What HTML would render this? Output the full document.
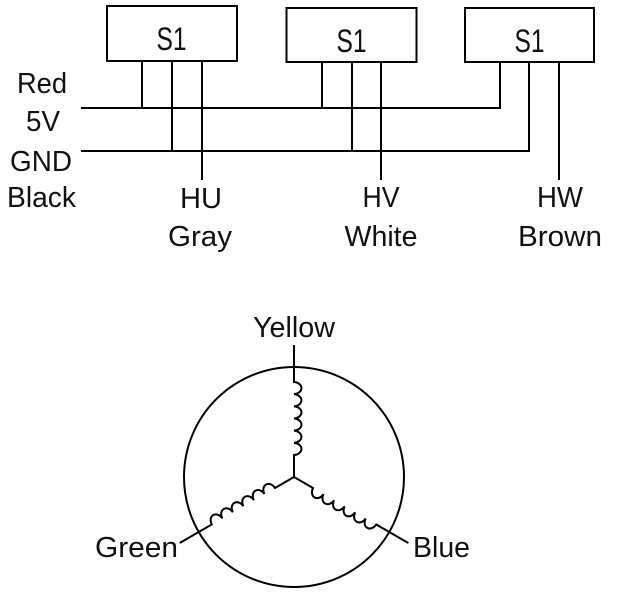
<!DOCTYPE html>
<html>
<head>
<meta charset="utf-8">
<style>
  html,body{margin:0;padding:0;background:#fff;}
  svg{display:block;}
  text{font-family:"Liberation Sans","DejaVu Sans",sans-serif;font-size:29px;fill:#111;text-anchor:middle;}
</style>
</head>
<body>
<svg width="621" height="595" viewBox="0 0 621 595" xmlns="http://www.w3.org/2000/svg">
  <g fill="none" stroke="#000" stroke-width="2">
    <!-- boxes -->
    <rect x="107" y="6" width="130" height="55"/>
    <rect x="286.5" y="8" width="130" height="54"/>
    <rect x="465" y="8" width="129" height="54"/>
    <!-- bus lines -->
    <line x1="81" y1="108" x2="501" y2="108"/>
    <line x1="81" y1="151" x2="530" y2="151"/>
    <!-- box1 pins -->
    <line x1="142" y1="61" x2="142" y2="108"/>
    <line x1="172" y1="61" x2="172" y2="151"/>
    <line x1="202" y1="61" x2="202" y2="180"/>
    <!-- box2 pins -->
    <line x1="322" y1="62" x2="322" y2="108"/>
    <line x1="352" y1="62" x2="352" y2="151"/>
    <line x1="381" y1="62" x2="381" y2="180"/>
    <!-- box3 pins -->
    <line x1="500" y1="62" x2="500" y2="109"/>
    <line x1="529" y1="62" x2="529" y2="152"/>
    <line x1="559" y1="62" x2="559" y2="180"/>

    <!-- motor circle -->
    <circle cx="294" cy="477" r="110"/>
    <!-- winding branches -->
    <path d="M294,345 L294,382 a8,6.1 0 0 1 0,12.17 a8,6.1 0 0 1 0,12.17 a8,6.1 0 0 1 0,12.17 a8,6.1 0 0 1 0,12.17 a8,6.1 0 0 1 0,12.17 a8,6.1 0 0 1 0,12.17 L294,477"/>
    <g transform="rotate(120 294 477)">
      <path d="M294,345 L294,382 a8,6.1 0 0 1 0,12.17 a8,6.1 0 0 1 0,12.17 a8,6.1 0 0 1 0,12.17 a8,6.1 0 0 1 0,12.17 a8,6.1 0 0 1 0,12.17 a8,6.1 0 0 1 0,12.17 L294,477"/>
    </g>
    <g transform="rotate(240 294 477)">
      <path d="M294,345 L294,382 a8,6.1 0 0 1 0,12.17 a8,6.1 0 0 1 0,12.17 a8,6.1 0 0 1 0,12.17 a8,6.1 0 0 1 0,12.17 a8,6.1 0 0 1 0,12.17 a8,6.1 0 0 1 0,12.17 L294,477"/>
    </g>
  </g>

  <!-- box labels -->
  <text x="171.5" y="50" style="font-size:32px" textLength="30" lengthAdjust="spacingAndGlyphs">S1</text>
  <text x="351.5" y="52" style="font-size:32px" textLength="30" lengthAdjust="spacingAndGlyphs">S1</text>
  <text x="529.5" y="52" style="font-size:32px" textLength="30" lengthAdjust="spacingAndGlyphs">S1</text>

  <!-- left labels -->
  <text x="42" y="93" textLength="50" lengthAdjust="spacingAndGlyphs">Red</text>
  <text x="43" y="131" textLength="34" lengthAdjust="spacingAndGlyphs">5V</text>
  <text x="41" y="171" textLength="62" lengthAdjust="spacingAndGlyphs">GND</text>
  <text x="41.5" y="207" textLength="69" lengthAdjust="spacingAndGlyphs">Black</text>

  <!-- phase labels -->
  <text x="201" y="208" textLength="42" lengthAdjust="spacingAndGlyphs">HU</text>
  <text x="200" y="246" textLength="64" lengthAdjust="spacingAndGlyphs">Gray</text>
  <text x="381" y="207" textLength="37" lengthAdjust="spacingAndGlyphs">HV</text>
  <text x="381" y="246" textLength="73" lengthAdjust="spacingAndGlyphs">White</text>
  <text x="560" y="207" textLength="46" lengthAdjust="spacingAndGlyphs">HW</text>
  <text x="560" y="246" textLength="84" lengthAdjust="spacingAndGlyphs">Brown</text>

  <!-- motor labels -->
  <text x="294" y="337" textLength="82" lengthAdjust="spacingAndGlyphs">Yellow</text>
  <text x="136.5" y="557" textLength="83" lengthAdjust="spacingAndGlyphs">Green</text>
  <text x="441.5" y="557" textLength="57" lengthAdjust="spacingAndGlyphs">Blue</text>
</svg>
</body>
</html>
